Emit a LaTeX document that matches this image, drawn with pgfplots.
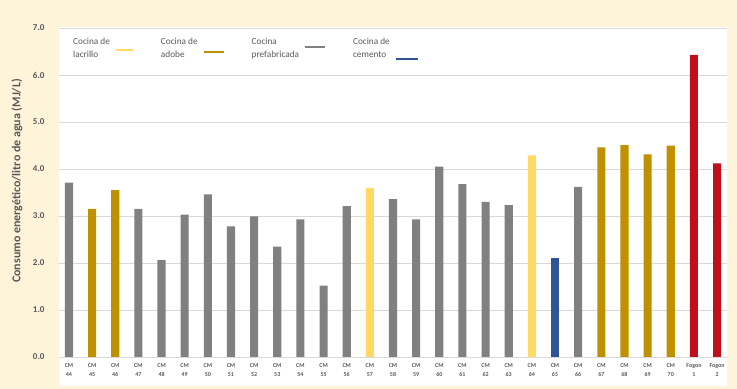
\documentclass[border=0pt]{standalone}
\usepackage{pgfplots}
\pgfplotsset{compat=1.18}
\usepackage{fontspec}
\setmainfont{Carlito}
\definecolor{cream}{HTML}{FEF4DA}
\definecolor{cgray}{HTML}{808080}
\definecolor{cgold}{HTML}{BF9000}
\definecolor{cyel}{HTML}{FFD966}
\definecolor{cblue}{HTML}{2F5597}
\definecolor{cred}{HTML}{C0101E}
\definecolor{gridc}{HTML}{D9D9D9}
\definecolor{txt}{HTML}{595959}
\begin{document}
\begin{tikzpicture}
\fill[cream] (-59bp,-32bp) rectangle (678bp,357bp);
\fill[white] (0bp,-29bp) rectangle (668bp,330bp);
\begin{axis}[
  scale only axis,
  width=668bp, height=329bp,
  at={(0,0)}, anchor=south west,
  xmin=-0.43, xmax=28.43,
  ymin=0, ymax=7,
  ytick={0,1,...,7},
  xtick={0,1,...,28},
  xticklabels={{CM\\44},{CM\\45},{CM\\46},{CM\\47},{CM\\48},{CM\\49},{CM\\50},{CM\\51},{CM\\52},{CM\\53},{CM\\54},{CM\\55},{CM\\56},{CM\\57},{CM\\58},{CM\\59},{CM\\60},{CM\\61},{CM\\62},{CM\\63},{CM\\64},{CM\\65},{CM\\66},{CM\\67},{CM\\68},{CM\\69},{CM\\70},{Fogon\\1},{Fogon\\2}},
  xticklabel style={align=center, font=\bfseries\fontsize{6}{9}\selectfont, text=txt, yshift=1bp},
  yticklabel style={font=\bfseries\fontsize{9}{10}\selectfont, text=txt, xshift=-11bp},
  /pgf/number format/assume math mode=true,
  yticklabel={\pgfmathprintnumber[fixed,fixed zerofill,precision=1]{\tick}},
  axis line style={draw=none},
  tick style={draw=none},
  ymajorgrids,
  grid style={gridc, line width=0.6pt},
  ylabel={Consumo energético/litro de agua (MJ/L)},
  ylabel style={font=\bfseries\fontsize{12}{14}\selectfont, text=txt, at={(axis description cs:-0.063,0.535)}, anchor=center},
  ybar, bar width=0.35, bar shift=0pt,
  every axis plot/.append style={draw=none},
  legend plot pos=right,
  legend cell align=left,
  legend columns=4,
  legend style={draw=none, fill=none, at={(axis description cs:0.018,0.975)}, anchor=north west,
    inner sep=0pt, font=\fontsize{9.3}{12.5}\selectfont, text=txt, cells={align=left},
    /tikz/every odd column/.append style={column sep=4bp},
    /tikz/every even column/.append style={column sep=26bp}},
]
\addplot[fill=cgray, forget plot] coordinates {(0,3.71) (3,3.15) (4,2.06) (5,3.03) (6,3.46) (7,2.78) (8,2.99) (9,2.35) (10,2.93) (11,1.52) (12,3.21) (14,3.36) (15,2.93) (16,4.05) (17,3.68) (18,3.30) (19,3.23) (22,3.62)};
\addplot[fill=cgold, forget plot] coordinates {(1,3.15) (2,3.55) (23,4.46) (24,4.51) (25,4.31) (26,4.50)};
\addplot[fill=cyel, forget plot] coordinates {(13,3.60) (20,4.29)};
\addplot[fill=cblue, forget plot] coordinates {(21,2.11)};
\addplot[fill=cred, forget plot] coordinates {(27,6.43) (28,4.12)};
\addlegendimage{legend image code/.code={\fill[cyel] (0bp,-2bp) rectangle (17bp,0bp);}}
\addlegendentry{Cocina de\\lacrillo}
\addlegendimage{legend image code/.code={\fill[cgold] (0bp,-4bp) rectangle (20bp,-2bp);}}
\addlegendentry{Cocina de\\adobe}
\addlegendimage{legend image code/.code={\fill[cgray] (0bp,1bp) rectangle (20bp,3bp);}}
\addlegendentry{Cocina\\prefabricada}
\addlegendimage{legend image code/.code={\fill[cblue] (0bp,-11bp) rectangle (22bp,-9bp);}}
\addlegendentry{Cocina de\\cemento}
\end{axis}
\end{tikzpicture}
\end{document}
